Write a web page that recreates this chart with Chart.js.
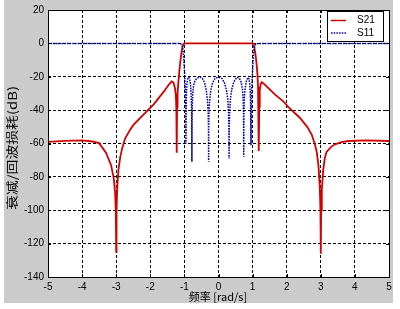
<!DOCTYPE html>
<html>
<head>
<meta charset="utf-8">
<script src="https://cdn.jsdelivr.net/npm/chart.js@4.4.1/dist/chart.umd.min.js"></script>
<style>
html,body{margin:0;padding:0;background:#fff;}
canvas{display:block;}
</style>
</head>
<body>
<canvas id="c" width="400" height="309"></canvas>
<script>
// ---- data ----
const xTicks = [-5, -4, -3, -2, -1, 0, 1, 2, 3, 4, 5];
const yTicks = [20, 0, -20, -40, -60, -80, -100, -120, -140];

const s21Freq = [-5, -4.5, -4, -3.7, -3.5, -3.3, -3.15, -3.07, -3.03, -3.01, -3.0, -2.99, -2.97, -2.93, -2.88, -2.82, -2.74, -2.6, -2.5, -2.2, -1.9, -1.6, -1.45, -1.37, -1.32, -1.28, -1.25, -1.235, -1.225, -1.215, -1.2, -1.18, -1.15, -1.12, -1.09, -1.06, -1.03, -1.0, -0.5, 0, 0.5, 1.0, 1.02, 1.05, 1.08, 1.11, 1.14, 1.16, 1.175, 1.185, 1.195, 1.21, 1.24, 1.27, 1.32, 1.41, 1.66, 1.9, 2.05, 2.39, 2.6, 2.73, 2.82, 2.88, 2.93, 2.97, 2.99, 3.0, 3.01, 3.03, 3.07, 3.12, 3.17, 3.3, 3.42, 3.6, 3.81, 4.3, 5.0];
const s21Loss = [-59, -58.4, -58.1, -58.8, -59.8, -65.5, -73, -81, -90, -102, -125, -100, -86, -75, -68, -62.5, -57, -52, -49, -42.7, -36.5, -28.8, -24.5, -22.8, -23.5, -26.5, -31, -40, -65.5, -38, -30, -24, -17, -11, -6, -2.5, -0.6, -0.05, 0, 0, 0, -0.05, -0.6, -2.5, -6, -11, -18, -26, -36, -64.5, -38, -28, -24.2, -23.3, -24, -25.8, -30.7, -34.7, -38.2, -44.7, -50, -54.5, -60, -65, -73, -86, -100, -126, -100, -88, -76, -68.5, -65, -62, -60.5, -59.2, -58.5, -58.1, -58.5];

const s11Freq = [-5, -1.12, -1.09, -1.07, -1.05, -1.035, -1.02, -1.0, -0.985, -0.97, -0.96, -0.955, -0.95, -0.94, -0.925, -0.9, -0.875, -0.85, -0.825, -0.805, -0.79, -0.783, -0.78, -0.777, -0.77, -0.755, -0.73, -0.69, -0.64, -0.58, -0.53, -0.47, -0.41, -0.36, -0.325, -0.303, -0.293, -0.29, -0.287, -0.277, -0.255, -0.22, -0.17, -0.1, 0, 0.1, 0.17, 0.23, 0.27, 0.293, 0.305, 0.31, 0.315, 0.327, 0.35, 0.39, 0.45, 0.54, 0.61, 0.66, 0.7, 0.722, 0.735, 0.74, 0.745, 0.757, 0.78, 0.82, 0.86, 0.89, 0.915, 0.932, 0.944, 0.952, 0.96, 0.972, 0.985, 1.0, 1.02, 1.035, 1.05, 1.07, 1.09, 1.12, 5];
const s11Loss = [-0.05, -0.15, -0.5, -1.1, -2.8, -5, -8.5, -16, -22, -30, -40, -60, -40, -29, -24, -21, -20.3, -21, -24, -29, -38, -48, -71, -48, -38, -30, -25, -22.5, -21, -20.3, -20.2, -21, -23.5, -28, -34, -41, -50, -71, -50, -41, -33, -27.5, -23.5, -21, -20.2, -21, -23.5, -27.5, -33, -41, -50, -69, -50, -41, -33, -27.5, -23, -20.3, -20.8, -23, -27, -33, -42, -68, -42, -33, -27, -22.5, -20.5, -21, -24, -30, -40, -61, -40, -29, -22, -16, -8.5, -5, -2.8, -1.1, -0.5, -0.15, -0.05];

const seriesNames = ['S21', 'S11'];
const yTitle = '衰减/回波损耗(dB)';
const xTitle = '频率 [rad/s]';

// ---- styling ----
const RED = '#d40000';
const BLUE = '#0000a8';
const GREY = '#cbcbcb';
const tickFont = {family: '"Liberation Sans", Arial, sans-serif', size: 10};

const pts = (xs, ys) => xs.map((v, i) => ({x: v, y: ys[i]}));

const decor = {
  id: 'decor',
  beforeDraw(chart) {
    const ctx = chart.ctx, a = chart.chartArea;
    ctx.save();
    ctx.fillStyle = '#ffffff';
    ctx.fillRect(0, 0, chart.width, chart.height);
    ctx.fillStyle = GREY;
    ctx.fillRect(4, 0, 389, 303);
    ctx.fillStyle = '#ffffff';
    ctx.fillRect(a.left, a.top, a.right - a.left, a.bottom - a.top);
    ctx.restore();
  },
  afterDraw(chart) {
    const ctx = chart.ctx, a = chart.chartArea;
    const xs = chart.scales.x, ys = chart.scales.y;
    ctx.save();
    ctx.setLineDash([]);
    ctx.strokeStyle = '#000';
    ctx.lineWidth = 1;
    // axes box
    ctx.strokeRect(Math.round(a.left) + 0.5, Math.round(a.top) + 0.5,
                   Math.round(a.right - a.left), Math.round(a.bottom - a.top));
    // inward tick marks
    ctx.beginPath();
    xTicks.forEach(v => {
      const px = Math.round(xs.getPixelForValue(v)) + 0.5;
      ctx.moveTo(px, a.bottom); ctx.lineTo(px, a.bottom - 3);
      ctx.moveTo(px, a.top); ctx.lineTo(px, a.top + 3);
    });
    yTicks.forEach(v => {
      const py = Math.round(ys.getPixelForValue(v)) + 0.5;
      ctx.moveTo(a.left, py); ctx.lineTo(a.left + 3, py);
      ctx.moveTo(a.right, py); ctx.lineTo(a.right - 3, py);
    });
    ctx.stroke();

    // legend
    const lx = 327.5, ly = 11.5, lw = 56, lh = 30;
    ctx.fillStyle = '#fff';
    ctx.fillRect(lx, ly, lw, lh);
    ctx.strokeRect(lx, ly, lw, lh);
    ctx.lineWidth = 1.5;
    ctx.strokeStyle = RED;
    ctx.beginPath(); ctx.moveTo(331, 20.5); ctx.lineTo(346, 20.5); ctx.stroke();
    ctx.strokeStyle = BLUE;
    ctx.setLineDash([1.5, 1.2]);
    ctx.beginPath(); ctx.moveTo(331, 33); ctx.lineTo(346, 33); ctx.stroke();
    ctx.setLineDash([]);
    ctx.fillStyle = '#000';
    ctx.font = '10px "Liberation Sans", Arial, sans-serif';
    ctx.textAlign = 'left';
    ctx.textBaseline = 'middle';
    ctx.fillText(seriesNames[0], 357, 20.5);
    ctx.fillText(seriesNames[1], 357, 33);

    // axis titles
    ctx.font = '12px "Noto Sans CJK SC", sans-serif';
    ctx.textAlign = 'center';
    ctx.textBaseline = 'middle';
    ctx.save();
    ctx.translate(12, 148);
    ctx.rotate(-Math.PI / 2);
    const w = ctx.measureText(yTitle).width;
    ctx.scale(124 / w, 1);
    ctx.fillText(yTitle, 0, 0);
    ctx.restore();
    ctx.font = '11px "Noto Sans CJK SC", sans-serif';
    ctx.fillText(xTitle, 218, 297);
    ctx.restore();
  }
};

new Chart(document.getElementById('c'), {
  type: 'line',
  data: {
    datasets: [
      {label: seriesNames[0], data: pts(s21Freq, s21Loss), borderColor: RED, borderWidth: 1.8,
       pointRadius: 0, tension: 0, order: 2},
      {label: seriesNames[1], data: pts(s11Freq, s11Loss), borderColor: BLUE, borderWidth: 1.5,
       borderDash: [1.6, 1.1], pointRadius: 0, tension: 0, order: 1}
    ]
  },
  options: {
    responsive: false,
    animation: false,
    devicePixelRatio: 1,
    layout: {padding: {top: 8, right: 11, left: 0, bottom: 0}},
    plugins: {legend: {display: false}, tooltip: {enabled: false}},
    scales: {
      x: {
        type: 'linear', min: -5, max: 5,
        afterBuildTicks: s => { s.ticks = xTicks.map(v => ({value: v})); },
        afterFit: s => { s.height = 32; },
        ticks: {font: tickFont, color: '#000', padding: 4, autoSkip: false, maxRotation: 0},
        grid: {color: '#000', lineWidth: 1, drawTicks: false},
        border: {display: false, dash: [3, 2]}
      },
      y: {
        type: 'linear', min: -140, max: 20,
        afterBuildTicks: s => { s.ticks = yTicks.map(v => ({value: v})); },
        afterFit: s => { s.width = 48; },
        ticks: {font: tickFont, color: '#000', padding: 4, autoSkip: false},
        grid: {color: '#000', lineWidth: 1, drawTicks: false},
        border: {display: false, dash: [3, 2]}
      }
    }
  },
  plugins: [decor]
});
</script>
</body>
</html>
